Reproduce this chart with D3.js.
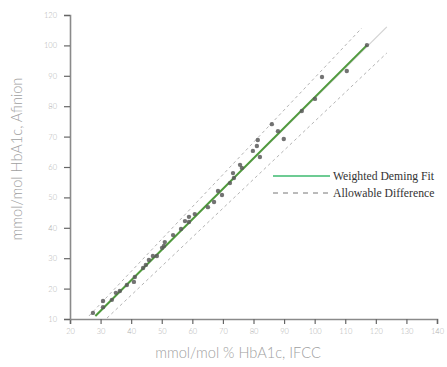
<!DOCTYPE html>
<html><head><meta charset="utf-8">
<script src="https://cdn.jsdelivr.net/npm/d3@7"></script>
<style>body{margin:0;background:#fff}svg{display:block}</style>
</head><body><svg id="c" width="447" height="367"></svg>
<script>
// Data
const xTickValues = [20,30,40,50,60,70,80,90,100,110,120,130,140];
const yTickValues = [10,20,30,40,50,60,70,80,90,100,110];
const yTickLabels = ["10","20","30","40","50","60","70","80","90","100","120"];
const ptX = [27.5,30.8,30.8,33.7,35.0,36.3,38.6,40.9,41.2,43.9,44.8,45.8,47.1,48.4,50.1,50.7,51.0,53.7,56.3,57.6,58.9,58.9,60.8,65.1,67.1,69.7,68.4,72.3,73.6,73.3,75.6,76.2,79.8,81.1,81.4,82.1,86.0,88.0,89.9,95.8,100.1,102.4,110.5,117.1];
const ptY = [12.0,15.9,13.9,16.3,18.6,19.2,21.2,22.2,23.8,26.8,27.8,29.4,30.7,30.7,33.4,34.0,35.3,37.6,39.6,42.2,43.6,41.9,44.5,46.8,48.5,50.8,52.1,54.7,56.4,58.0,60.7,59.7,65.3,66.9,68.9,63.3,74.1,71.8,69.2,78.4,82.4,89.6,91.6,100.1];
const fitX = [28.3,117.1];
const fitY = [11.0,100.1];
const refX = [28.3,123.6];
const refY = [11.0,106.1];
const upperX = [26.2,115.4];
const upperY = [11.0,105.7];
const lowerX = [32.1,123.6];
const lowerY = [10.3,97.5];
const legendLabels = ["Weighted Deming Fit","Allowable Difference"];
const xTitle = "mmol/mol % HbA1c, IFCC";
const yTitle = "mmol/mol HbA1c, Afinion";

const svg = d3.select("#c");
const x = d3.scaleLinear().domain([20,140]).range([70,437]);
const y = d3.scaleLinear().domain([10,110]).range([319,15]);
const font = "Lato, 'Open Sans', sans-serif";

const line = d3.line().x(d=>x(d[0])).y(d=>y(d[1]));
const zip = (a,b)=>a.map((v,i)=>[v,b[i]]);

// reference (light) line
svg.append("path").attr("d", line(zip(refX,refY))).attr("fill","none").attr("stroke","#d2d2d2").attr("stroke-width",1.2);
// allowable difference
[[upperX,upperY],[lowerX,lowerY]].forEach(([a,b])=>{
  svg.append("path").attr("d", line(zip(a,b))).attr("fill","none").attr("stroke","#b4b4b4")
    .attr("stroke-width",1).attr("stroke-dasharray","3,3");
});
// fit
svg.append("path").attr("d", line(zip(fitX,fitY))).attr("fill","none").attr("stroke","#4f9a3c").attr("stroke-width",2);
// points
svg.append("g").selectAll("circle").data(zip(ptX,ptY)).join("circle")
  .attr("cx",d=>x(d[0])).attr("cy",d=>y(d[1])).attr("r",2.2)
  .attr("fill","#5a5a5a").attr("opacity",0.85);

// axes
const xa = svg.append("g").attr("transform","translate(0,319)")
  .call(d3.axisBottom(x).tickValues(xTickValues).tickSize(5).tickPadding(5).tickFormat(d3.format("d")));
const ya = svg.append("g").attr("transform","translate(70,0)")
  .call(d3.axisLeft(y).tickValues(yTickValues).tickSize(6).tickPadding(7).tickFormat((d,i)=>yTickLabels[i]));
[xa,ya].forEach(g=>{
  g.select(".domain").attr("stroke","#8a8a8a").attr("stroke-width",1.6);
  g.selectAll(".tick line").attr("stroke","#666").attr("stroke-width",1.2);
  g.selectAll(".tick text").attr("fill","#b0b0b0").style("font-family",font).style("font-weight","300").style("font-size","7.5px");
});

// titles
svg.append("text").attr("x",238).attr("y",358).attr("text-anchor","middle")
  .style("font-family",font).style("font-weight","300").style("font-size","14.6px").attr("fill","#a0a0a0").text(xTitle);
svg.append("text").attr("transform","translate(22,159) rotate(-90)").attr("text-anchor","middle")
  .style("font-family",font).style("font-weight","300").style("font-size","14.6px").attr("fill","#a0a0a0").text(yTitle);

// legend
const lg = svg.append("g");
lg.append("line").attr("x1",273).attr("x2",330).attr("y1",176).attr("y2",176).attr("stroke","#3dba6f").attr("stroke-width",1.6);
lg.append("line").attr("x1",273).attr("x2",330).attr("y1",193).attr("y2",193).attr("stroke","#777").attr("stroke-width",1).attr("stroke-dasharray","5,5");
lg.selectAll("text").data(legendLabels).join("text")
  .attr("x",333).attr("y",(d,i)=>179.5+i*17)
  .style("font-family","'Liberation Serif','DejaVu Serif',serif").style("font-size","11.7px").attr("fill","#333").text(d=>d);
</script></body></html>
